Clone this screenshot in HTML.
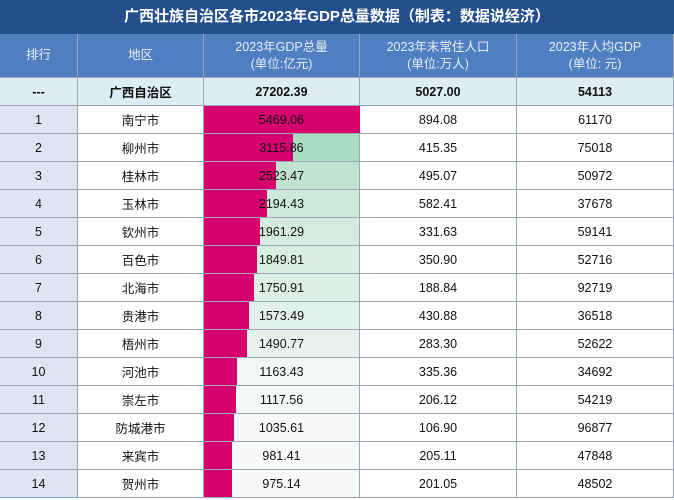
<!DOCTYPE html>
<html><head><meta charset="utf-8">
<style>
body{margin:0;width:674px;height:500px;overflow:hidden;background:#fff;font-family:"Liberation Sans","Noto Sans CJK SC",sans-serif;}
#title{position:absolute;left:0;top:0;width:674px;height:34px;background:#23508c;color:#fff;font-weight:bold;font-size:15px;line-height:34px;text-align:center;}
#tbl{position:absolute;left:0;top:34px;}
.c{position:absolute;box-sizing:border-box;border-right:1px solid #9aa6b4;border-bottom:1px solid #9aa6b4;text-align:center;font-size:12.5px;color:#111;display:flex;align-items:center;justify-content:center;}
.h{background:#4f7fc0;color:#e8eef8;line-height:17px;font-size:12.5px;}
.tot{background:#dcedf4;font-weight:bold;}
.rk{background:#dce5f1;}
.bar{position:absolute;background:#d6006f;}
.txt{position:relative;}
</style></head><body>
<div id="title">广西壮族自治区各市2023年GDP总量数据（制表：数据说经济）</div>
<div id="tbl"></div>
<script>
const cities=["南宁市","柳州市","桂林市","玉林市","钦州市","百色市","北海市","贵港市","梧州市","河池市","崇左市","防城港市","来宾市","贺州市"];
const gdp=[5469.06,3115.86,2523.47,2194.43,1961.29,1849.81,1750.91,1573.49,1490.77,1163.43,1117.56,1035.61,981.41,975.14];
const pop=[894.08,415.35,495.07,582.41,331.63,350.90,188.84,430.88,283.30,335.36,206.12,106.90,205.11,201.05];
const pergdp=[61170,75018,50972,37678,59141,52716,92719,36518,52622,34692,54219,96877,47848,48502];
const totals=["---","广西自治区","27202.39","5027.00","54113"];
const headers=["排行","地区","2023年GDP总量<br>(单位:亿元)","2023年末常住人口<br>(单位:万人)","2023年人均GDP<br>(单位: 元)"];
const colX=[0,78,204,360,517,674];
const tbl=document.getElementById('tbl');
const names=['rank','region','gdp','population','gdp-per-capita'];
function cell(i,y,h,html,cls,nm){
  const d=document.createElement('div');
  
  
  d.className='c '+cls;
  d.style.left=colX[i]+'px';d.style.top=y+'px';
  d.style.width=(colX[i+1]-colX[i])+'px';d.style.height=h+'px';
  d.innerHTML=html;tbl.appendChild(d);return d;
}
headers.forEach((t,i)=>cell(i,0,44,t,'h','header-'+names[i]));
totals.forEach((t,i)=>cell(i,44,28,t,'tot','total-'+names[i]));
const maxG=Math.max(...gdp);
const sorted=[...gdp].sort((a,b)=>b-a);
const gHi=sorted[1],gLo=Math.min(...gdp);
const bw=colX[3]-colX[2];
cities.forEach((c,r)=>{
  const y=72+r*28;
  cell(0,y,28,String(r+1),'rk','rank-cell');
  cell(1,y,28,c,'','region-cell');
  const g=cell(2,y,28,'','','gdp-cell');
  let t=Math.max(0,Math.min(1,(gdp[r]-gLo)/(gHi-gLo)));
  const R=Math.round(248-(248-170)*t),G=Math.round(250-(250-220)*t),B=Math.round(250-(250-192)*t);
  g.style.background=`rgb(${R},${G},${B})`;
  const b=document.createElement('div');
  
  
  b.className='bar';b.style.left='0';b.style.top='0';b.style.height='27px';
  b.style.width=(gdp[r]/maxG*bw)+'px';g.appendChild(b);
  const s=document.createElement('span');
  
  
  s.className='txt';s.textContent=gdp[r].toFixed(2);g.appendChild(s);
  cell(3,y,28,pop[r].toFixed(2),'','population-cell');
  cell(4,y,28,String(pergdp[r]),'','gdp-per-capita-cell');
});
</script>
</body></html>
